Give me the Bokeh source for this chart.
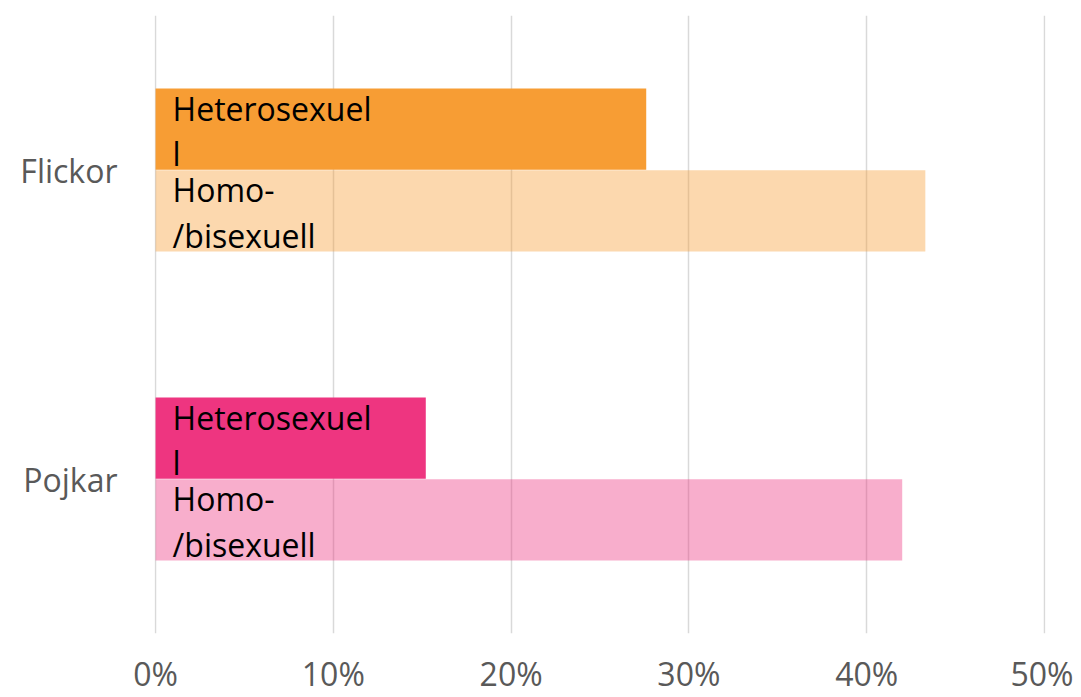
from bokeh.plotting import figure
from bokeh.models import Range1d, FactorRange, ColumnDataSource, FixedTicker, PrintfTickFormatter
from bokeh.transform import dodge
from bokeh.core.properties import value
from bokeh.embed import file_html
from bokeh.resources import INLINE

categories = ["Flickor", "Pojkar"]
hetero_values = [27.6, 15.2]
homo_values = [43.3, 42.0]
series_labels = ["Heterosexuel\nl", "Homo-\n/bisexuell"]
hetero_colors = ["#F79D34", "#EE3580"]
homo_colors = ["#F79D34", "#EE3580"]
x_ticks = [0, 10, 20, 30, 40, 50]

FONT = "Open Sans"

p = figure(width=1073, height=697, output_backend="svg", toolbar_location=None,
           y_range=FactorRange(*reversed(categories)), x_range=Range1d(-0.06, 50.06),
           min_border_left=154, min_border_right=28, min_border_top=15, min_border_bottom=62)
p.outline_line_color = None
p.background_fill_color = "white"
p.border_fill_color = "white"

src = ColumnDataSource(dict(
    cat=categories,
    hetero=hetero_values,
    homo=homo_values,
    hcol=hetero_colors,
    mcol=homo_colors,
    hlab=[series_labels[0]] * len(categories),
    mlab=[series_labels[1]] * len(categories),
    zero=[0] * len(categories),
))

bh = 0.263
off = 0.132
p.hbar(y=dodge("cat", off, range=p.y_range), left=0, right="hetero", height=bh,
       fill_color="hcol", line_color=None, source=src)
p.hbar(y=dodge("cat", -off, range=p.y_range), left=0, right="homo", height=bh,
       fill_color="mcol", fill_alpha=0.4, line_color=None, source=src, level="overlay")

for lab, o in (("hlab", off), ("mlab", -off)):
    p.text(x="zero", y=dodge("cat", o - 0.006, range=p.y_range), text=lab, source=src,
           x_offset=17, text_baseline="middle", text_align="left",
           text_font=value(FONT), text_font_size="32px", text_color="black",
           text_line_height=1.06, level="overlay")

p.xaxis.ticker = FixedTicker(ticks=x_ticks)
p.xaxis.formatter = PrintfTickFormatter(format="%d%%")
p.xaxis.axis_line_color = None
p.xaxis.major_tick_line_color = None
p.xaxis.minor_tick_line_color = None
p.xaxis.major_label_standoff = 12
p.xaxis.major_label_text_font = FONT
p.xaxis.major_label_text_font_size = "32px"
p.xaxis.major_label_text_color = "#595959"

p.yaxis.axis_line_color = None
p.yaxis.major_tick_line_color = None
p.yaxis.minor_tick_line_color = None
p.yaxis.major_label_standoff = 31
p.yaxis.major_label_text_font = FONT
p.yaxis.major_label_text_font_size = "32px"
p.yaxis.major_label_text_color = "#595959"

p.ygrid.grid_line_color = None
p.xgrid.grid_line_color = "#D9D9D9"
p.xgrid.grid_line_width = 1.5

open("out.html", "w").write(file_html(p, INLINE))
